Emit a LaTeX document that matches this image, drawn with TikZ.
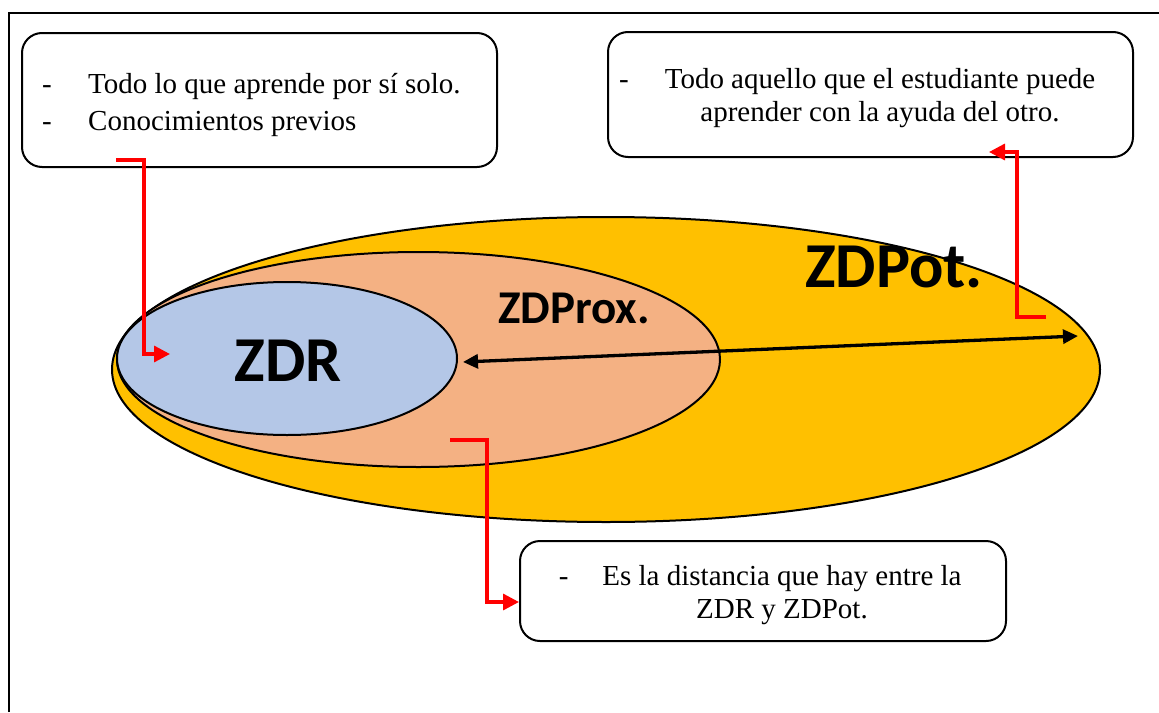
\documentclass[tikz,border=0pt]{standalone}
\usepackage{fontspec}
\setmainfont{Liberation Serif}
\newfontfamily\calibri{Carlito}
\usetikzlibrary{shapes.geometric,arrows.meta}
\definecolor{potcol}{HTML}{FFC000}
\definecolor{proxcol}{HTML}{F4B183}
\definecolor{zdrcol}{HTML}{B4C7E7}
\definecolor{redcol}{HTML}{FF0000}
\tikzset{
  zone/.style={ellipse, draw=black, line width=2pt, inner sep=0pt},
  callout/.style={draw=black, line width=2pt, rounded corners=20pt, fill=white, inner sep=0pt},
  boxtext/.style={anchor=base, inner sep=0pt, font=\fontsize{29}{33}\selectfont},
  zonelabel/.style={inner sep=0pt, font=\calibri\bfseries},
  redlink/.style={draw=redcol, line width=3.3pt, line join=miter, -{Triangle[length=16pt,width=16pt]}},
  blacklink/.style={draw=black, line width=3.3pt, {Triangle[length=15pt,width=14pt]}-{Triangle[length=15pt,width=14pt]}}
}
\begin{document}
\begin{tikzpicture}[x=1pt,y=-1pt]
\useasboundingbox (0,0) rectangle (1159,712);
% frame
\draw[line width=2.5pt] (9,712) -- (9,13) -- (1159,13);
% zones
\node[zone, fill=potcol, minimum width=988pt, minimum height=305pt] (pot) at (606,369.5) {};
\node[zone, fill=proxcol, minimum width=603pt, minimum height=215pt] (prox) at (418.5,359.5) {};
\node[zone, fill=zdrcol, minimum width=340pt, minimum height=153pt] (zdr) at (287,358.5) {};
% zone labels
\node[zonelabel, anchor=base, font=\calibri\bfseries\fontsize{64}{64}\selectfont] (lzdr) at (288,381) {ZDR};
\node[zonelabel, anchor=base west, font=\calibri\bfseries\fontsize{47}{47}\selectfont] (lprox) at (498,323) {ZDProx.};
\node[zonelabel, anchor=base west, font=\calibri\bfseries\fontsize{64}{64}\selectfont] (lpot) at (805,287) {ZDPot.};
% double arrow
\coordinate (aL) at (463,362);
\coordinate (aR) at (1078,336);
\draw[blacklink] (aL) -- (aR);
% callout boxes
\node[callout, minimum width=475pt, minimum height=134pt] (b1) at (259.5,100) {};
\node[callout, minimum width=525pt, minimum height=125pt] (b2) at (870.5,94.5) {};
\node[callout, minimum width=486pt, minimum height=100pt] (b3) at (763,591) {};
% box texts
\node[boxtext, anchor=base west] (t1a) at (42,93) {\makebox[46pt][l]{-}Todo lo que aprende por sí solo.};
\node[boxtext, anchor=base west] (t1b) at (42,130) {\makebox[46pt][l]{-}Conocimientos previos};
\node[boxtext] (t2a) at (880,88) {\llap{-\hspace{36pt}}Todo aquello que el estudiante puede};
\node[boxtext] (t2b) at (880,121) {aprender con la ayuda del otro.};
\node[boxtext] (t3a) at (782,585) {\llap{-\hspace{34pt}}Es la distancia que hay entre la};
\node[boxtext] (t3b) at (782,618) {ZDR y ZDPot.};
% red connectors
\coordinate (r1s) at (116,160);
\coordinate (r1e) at (170,354);
\draw[redlink] (r1s) -- (144,160) |- (r1e);
\coordinate (r2s) at (1046,317);
\coordinate (r2e) at (989,152);
\draw[redlink] (r2s) -- (1017,317) |- (r2e);
\coordinate (r3s) at (450,440);
\coordinate (r3e) at (b3.west |- 0,602);
\draw[redlink] (r3s) -- (487,440) |- (r3e);
\end{tikzpicture}
\end{document}
